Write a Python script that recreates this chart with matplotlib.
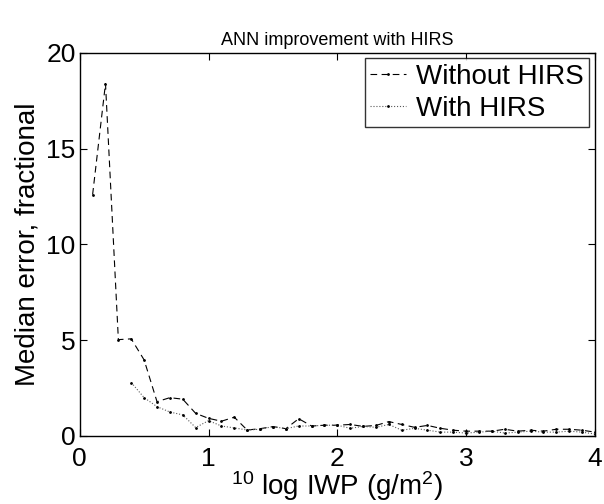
import matplotlib
matplotlib.use("Agg")
import matplotlib.pyplot as plt

plt.rcParams['font.family'] = ['Liberation Sans', 'DejaVu Sans']
plt.rcParams['mathtext.default'] = 'regular'

# log10 IWP bins
x_without = [0.1, 0.2, 0.3, 0.4, 0.5, 0.6, 0.7, 0.8, 0.9, 1.0,
             1.1, 1.2, 1.3, 1.4, 1.5, 1.6, 1.7, 1.8, 1.9, 2.0,
             2.1, 2.2, 2.3, 2.4, 2.5, 2.6, 2.7, 2.8, 2.9, 3.0,
             3.1, 3.2, 3.3, 3.4, 3.5, 3.6, 3.7, 3.8, 3.9, 4.0]
err_without = [12.6, 18.4, 5.03, 5.07, 3.97, 1.79, 2.0, 1.92, 1.18, 0.92,
               0.77, 0.98, 0.31, 0.38, 0.49, 0.38, 0.9, 0.52, 0.56, 0.56,
               0.6, 0.5, 0.55, 0.75, 0.6, 0.45, 0.55, 0.4, 0.3, 0.25,
               0.25, 0.25, 0.35, 0.25, 0.3, 0.25, 0.35, 0.35, 0.3, 0.2]

x_with = [0.4, 0.5, 0.6, 0.7, 0.8, 0.9, 1.0,
          1.1, 1.2, 1.3, 1.4, 1.5, 1.6, 1.7, 1.8, 1.9, 2.0,
          2.1, 2.2, 2.3, 2.4, 2.5, 2.6, 2.7, 2.8, 2.9, 3.0,
          3.1, 3.2, 3.3, 3.4, 3.5, 3.6, 3.7, 3.8, 3.9, 4.0]
err_with = [2.79, 2.0, 1.53, 1.25, 1.1, 0.44, 0.8,
            0.52, 0.42, 0.31, 0.35, 0.49, 0.38, 0.52, 0.52, 0.56, 0.56,
            0.4, 0.5, 0.45, 0.6, 0.3, 0.4, 0.3, 0.2, 0.2, 0.15,
            0.2, 0.25, 0.15, 0.2, 0.25, 0.2, 0.2, 0.25, 0.2, 0.1]

fig = plt.figure(figsize=(6.04, 5.04), dpi=100)
ax = fig.add_axes([0.132, 0.135, 0.853, 0.76])

ax.plot(x_without, err_without, color='black', linestyle=(0, (6, 4)), linewidth=0.8,
        marker='.', markersize=2, label='Without HIRS')
ax.plot(x_with, err_with, color='0.35', linestyle=':', linewidth=0.8,
        marker='.', markersize=2, markeredgecolor='black', markerfacecolor='black',
        label='With HIRS')

ax.set_xlim(0, 4)
ax.set_ylim(0, 20)
ax.set_xticks([0, 1, 2, 3, 4])
ax.set_yticks([0, 5, 10, 15, 20])
ax.tick_params(direction='in', length=5, labelsize=19, top=True, right=True)
ax.tick_params(axis='x', pad=8)
ax.tick_params(axis='y', pad=3)
for s in ax.spines.values():
    s.set_linewidth(1.0)

ax.set_title('ANN improvement with HIRS', fontsize=13)
ax.set_xlabel('$^{10}$ log IWP (g/m$^2$)', fontsize=20, labelpad=-1)
ax.set_ylabel('Median error, fractional', fontsize=20, labelpad=4)

leg = ax.legend(loc='upper right', fontsize=20, frameon=True, fancybox=False,
                handlelength=1.3, handletextpad=0.35, borderpad=0.2,
                labelspacing=0.2, borderaxespad=0.2)
leg.get_frame().set_edgecolor('black')
leg.get_frame().set_linewidth(1.0)

fig.savefig('out.png', dpi=100)
